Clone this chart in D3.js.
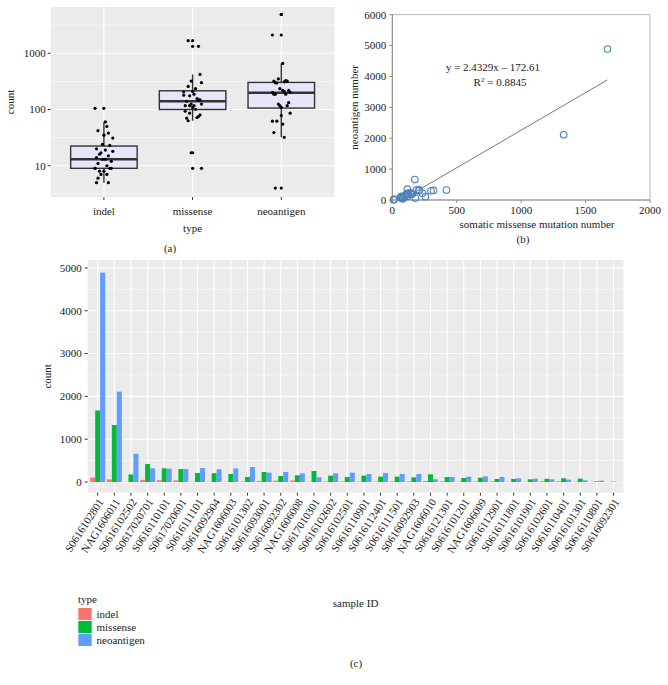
<!DOCTYPE html>
<html><head><meta charset="utf-8">
<script src="https://cdn.jsdelivr.net/npm/d3@7"></script>
<style>
html,body{margin:0;padding:0;background:#fff;}
svg text{font-family:"Liberation Serif","Times New Roman",serif;fill:#222;}
</style></head>
<body><svg id="c" width="668" height="685"></svg>
<script>
const samples = ["S0616102801","NAG1606011","S0616102502","S0617020701","S0616110101","S0617020601","S0616111101","S0616092904","NAG1606003","S0616101302","S0616093001","S0616092302","NAG1606008","S0617010301","S0616102602","S0616102501","S0616110901","S0616112401","S0616111501","S0616092903","NAG1606010","S0616121301","S0616101201","NAG1606009","S0616112901","S0616111801","S0616101901","S0616102601","S0616110401","S0616101301","S0616110801","S0616092301"];
const indel = [105,60,5,50,42,38,8,9,7,12,24,31,35,9,13,14,10,11,15,16,23,17,9,13,18,8,9,19,20,7,6,5];
const missense = [1670,1330,175,420,320,300,210,205,187,117,234,140,156,257,148,117,148,125,125,109,179,117,93,101,70,72,63,75,86,80,17,9];
const neoantigen = [4890,2110,660,320,310,300,327,296,319,350,218,234,202,109,202,218,187,210,187,187,62,117,125,132,117,86,78,62,55,39,32,4];
const types = ["indel","missense","neoantigen"];
const colors = ["#F8766D","#00BA38","#619CFF"];
// box statistics
const boxQ1 = [9, 100, 106];
const boxMedian = [13, 140, 198];
const boxQ3 = [22.4, 215, 303];
const whiskerLow = [5, 63, 32];
const whiskerHigh = [60, 420, 660];
const yTicksA = [10, 100, 1000];
const yMinorA = [3.162, 31.62, 316.2, 3162];
const xTicksB = [0, 500, 1000, 1500, 2000];
const yTicksB = [0, 1000, 2000, 3000, 4000, 5000, 6000];
const fitSlope = 2.4329, fitIntercept = -172.61;
const yTicksC = [0, 1000, 2000, 3000, 4000, 5000];
const yMinorC = [500, 1500, 2500, 3500, 4500];

const series = [indel, missense, neoantigen];
const svg = d3.select("#c");
const FS = 11;

// ---------- Panel (a) ----------
{
  const L=50.7,R=334.5,T=7,B=197;
  const x = d3.scalePoint().domain(types).range([L,R]).padding(0.6);
  const y = d3.scaleLog().domain([2.78, 6640]).range([B,T]);
  const g = svg.append("g");
  g.append("rect").attr("x",L).attr("y",T).attr("width",R-L).attr("height",B-T).attr("fill","#EBEBEB");
  yMinorA.forEach(v=>g.append("line").attr("x1",L).attr("x2",R).attr("y1",y(v)).attr("y2",y(v)).attr("stroke","#fff").attr("stroke-width",0.6));
  yTicksA.forEach(v=>g.append("line").attr("x1",L).attr("x2",R).attr("y1",y(v)).attr("y2",y(v)).attr("stroke","#fff").attr("stroke-width",1.2));
  types.forEach(t=>g.append("line").attr("x1",x(t)).attr("x2",x(t)).attr("y1",T).attr("y2",B).attr("stroke","#fff").attr("stroke-width",1.2));
  const bw = x.step()*0.75;
  types.forEach((t,i)=>{
    const cx=x(t);
    g.append("line").attr("x1",cx).attr("x2",cx).attr("y1",y(boxQ3[i])).attr("y2",y(whiskerHigh[i])).attr("stroke","#333").attr("stroke-width",1.4);
    g.append("line").attr("x1",cx).attr("x2",cx).attr("y1",y(boxQ1[i])).attr("y2",y(whiskerLow[i])).attr("stroke","#333").attr("stroke-width",1.4);
    g.append("rect").attr("x",cx-bw/2).attr("width",bw).attr("y",y(boxQ3[i])).attr("height",y(boxQ1[i])-y(boxQ3[i]))
      .attr("fill","#E6E6FA").attr("stroke","#333").attr("stroke-width",1.4);
    g.append("line").attr("x1",cx-bw/2).attr("x2",cx+bw/2).attr("y1",y(boxMedian[i])).attr("y2",y(boxMedian[i])).attr("stroke","#333").attr("stroke-width",2.6);
    series[i].forEach(v=>{ if(v<whiskerLow[i]||v>whiskerHigh[i]) g.append("circle").attr("cx",cx).attr("cy",y(v)).attr("r",1.6).attr("fill","#000"); });
    series[i].forEach((v,j)=>{
      const off = (((j*7+i*3)%13)/12 - 0.5)*0.2*x.step();
      g.append("circle").attr("cx",cx+off).attr("cy",y(v)).attr("r",1.6).attr("fill","#000");
    });
  });
  yTicksA.forEach(v=>{
    g.append("line").attr("x1",L-3).attr("x2",L).attr("y1",y(v)).attr("y2",y(v)).attr("stroke","#333");
    g.append("text").attr("x",L-5).attr("y",y(v)).attr("dy","0.35em").attr("text-anchor","end").attr("font-size",FS).text(v);
  });
  types.forEach(t=>{
    g.append("line").attr("x1",x(t)).attr("x2",x(t)).attr("y1",B).attr("y2",B+3).attr("stroke","#333");
    g.append("text").attr("x",x(t)).attr("y",B+18).attr("text-anchor","middle").attr("font-size",FS).text(t);
  });
  g.append("text").attr("x",(L+R)/2).attr("y",232).attr("text-anchor","middle").attr("font-size",FS).text("type");
  g.append("text").attr("transform",`translate(14,${(T+B)/2}) rotate(-90)`).attr("text-anchor","middle").attr("font-size",FS).text("count");
  g.append("text").attr("x",170).attr("y",252).attr("text-anchor","middle").attr("font-size",FS).text("(a)");
}

// ---------- Panel (b) ----------
{
  const L=392.3,R=650,T=14.7,B=200;
  const x = d3.scaleLinear().domain([0,2000]).range([L,R]);
  const y = d3.scaleLinear().domain([0,6000]).range([B,T]);
  const g = svg.append("g");
  g.append("rect").attr("x",L).attr("y",T).attr("width",R-L).attr("height",B-T).attr("fill","none").attr("stroke","#a6a6a6").attr("stroke-width",0.8);
  g.append("line").attr("x1",L).attr("x2",L).attr("y1",T).attr("y2",B).attr("stroke","#8c8c8c");
  g.append("line").attr("x1",L).attr("x2",R).attr("y1",B).attr("y2",B).attr("stroke","#8c8c8c");
  yTicksB.forEach(v=>{
    g.append("line").attr("x1",L-3).attr("x2",L).attr("y1",y(v)).attr("y2",y(v)).attr("stroke","#8c8c8c");
    g.append("text").attr("x",L-6).attr("y",y(v)).attr("dy","0.35em").attr("text-anchor","end").attr("font-size",FS).text(v);
  });
  xTicksB.forEach(v=>{
    g.append("line").attr("x1",x(v)).attr("x2",x(v)).attr("y1",B).attr("y2",B+3).attr("stroke","#8c8c8c");
    g.append("text").attr("x",x(v)).attr("y",B+14).attr("text-anchor","middle").attr("font-size",FS).text(v);
  });
  const x0 = -fitIntercept/fitSlope, x1 = d3.max(missense);
  g.append("line").attr("x1",x(x0)).attr("y1",y(fitSlope*x0+fitIntercept)).attr("x2",x(x1)).attr("y2",y(fitSlope*x1+fitIntercept))
    .attr("stroke","#555").attr("stroke-width",0.8);
  missense.forEach((m,i)=>g.append("circle").attr("cx",x(m)).attr("cy",y(neoantigen[i])).attr("r",3.3)
    .attr("fill","none").attr("stroke","#4F81BD").attr("stroke-width",1.1));
  g.append("text").attr("x",493).attr("y",70.5).attr("text-anchor","middle").attr("font-size",FS).text("y = 2.4329x \u2013 172.61");
  const r2 = g.append("text").attr("x",500).attr("y",85.5).attr("text-anchor","middle").attr("font-size",FS);
  r2.append("tspan").text("R");
  r2.append("tspan").attr("dy",-4).attr("font-size",7).text("2");
  r2.append("tspan").attr("dy",4).text(" = 0.8845");
  g.append("text").attr("transform",`translate(358,${(T+B)/2}) rotate(-90)`).attr("text-anchor","middle").attr("font-size",FS).text("neoantigen number");
  g.append("text").attr("x",537).attr("y",228).attr("text-anchor","middle").attr("font-size",FS).text("somatic missense mutation number");
  g.append("text").attr("x",523).attr("y",243).attr("text-anchor","middle").attr("font-size",FS).text("(b)");
}

// ---------- Panel (c) ----------
{
  const L=87.7,R=623.5,T=260,B=492.7;
  const x = d3.scalePoint().domain(samples).range([L,R]).padding(0.6);
  const y = d3.scaleLinear().domain([-250,5185]).range([B,T]);
  const g = svg.append("g");
  g.append("rect").attr("x",L).attr("y",T).attr("width",R-L).attr("height",B-T).attr("fill","#EBEBEB");
  yMinorC.forEach(v=>g.append("line").attr("x1",L).attr("x2",R).attr("y1",y(v)).attr("y2",y(v)).attr("stroke","#fff").attr("stroke-width",0.6));
  yTicksC.forEach(v=>g.append("line").attr("x1",L).attr("x2",R).attr("y1",y(v)).attr("y2",y(v)).attr("stroke","#fff").attr("stroke-width",1.1));
  samples.forEach(s=>g.append("line").attr("x1",x(s)).attr("x2",x(s)).attr("y1",T).attr("y2",B).attr("stroke","#fff").attr("stroke-width",1.1));
  const bw = x.step()*0.3;
  series.forEach((arr,k)=>{
    arr.forEach((v,i)=>{
      const cx = x(samples[i]) + (k-1)*bw;
      g.append("rect").attr("x",cx-bw/2).attr("width",bw).attr("y",y(v)).attr("height",y(0)-y(v)).attr("fill",colors[k]);
    });
  });
  yTicksC.forEach(v=>{
    g.append("line").attr("x1",L-3).attr("x2",L).attr("y1",y(v)).attr("y2",y(v)).attr("stroke","#333");
    g.append("text").attr("x",L-6).attr("y",y(v)).attr("dy","0.35em").attr("text-anchor","end").attr("font-size",FS).text(v);
  });
  samples.forEach(s=>{
    g.append("line").attr("x1",x(s)).attr("x2",x(s)).attr("y1",B).attr("y2",B+3).attr("stroke","#333");
    g.append("text").attr("transform",`translate(${x(s)+3},${B+7}) rotate(-57)`).attr("text-anchor","end").attr("dy","0.35em").attr("font-size",FS).text(s);
  });
  g.append("text").attr("x",(L+R)/2).attr("y",607).attr("text-anchor","middle").attr("font-size",FS).text("sample ID");
  g.append("text").attr("transform",`translate(51,${(T+B)/2}) rotate(-90)`).attr("text-anchor","middle").attr("font-size",FS).text("count");
  g.append("text").attr("x",78).attr("y",603).attr("font-size",FS).text("type");
  types.forEach((t,k)=>{
    const yy = 608 + k*13;
    g.append("rect").attr("x",78.3).attr("y",yy).attr("width",13.4).attr("height",12).attr("fill",colors[k]);
    g.append("text").attr("x",96.5).attr("y",yy+6).attr("dy","0.35em").attr("font-size",FS).text(t);
  });
  g.append("text").attr("x",356).attr("y",667).attr("text-anchor","middle").attr("font-size",FS).text("(c)");
}
</script></body></html>
